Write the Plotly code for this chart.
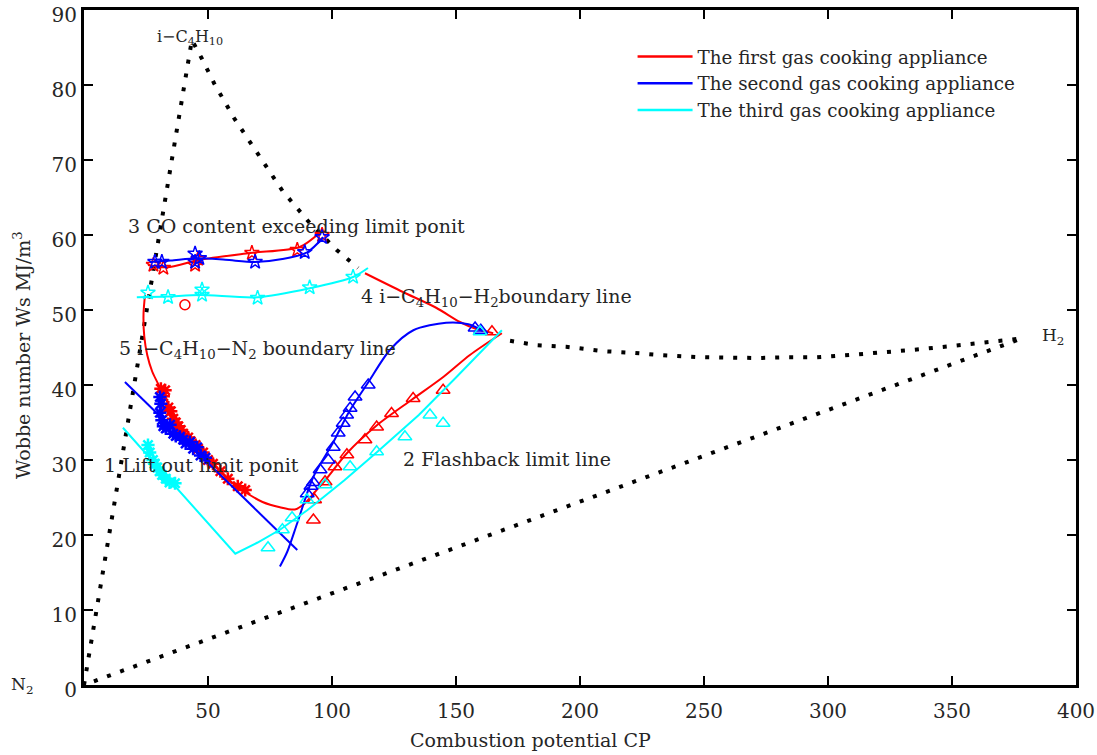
import plotly.graph_objects as go

# ---------------- boundary (dotted) lines ----------------
# N2 -> i-C4H10 -> along i-C4H10 side
tri_cp = [0, 43.5, 47.4, 52.5, 60.5, 70, 80, 91, 101.9, 110.5]
tri_ws = [0, 86, 83.6, 80.2, 75.6, 70.9, 65.9, 61.6, 58.0, 55.6]
# i-C4H10-H2 curve -> H2 -> straight back to N2
h2_cp = [171.8, 182.7, 194.4, 210, 221, 232, 249, 261, 272.6, 284, 295.6, 308.5, 321, 335, 350, 365, 378, 0]
h2_ws = [45.9, 45.3, 45.1, 44.5, 44.3, 44.0, 43.7, 43.6, 43.6, 43.7, 43.7, 44.0, 44.3, 44.7, 45.2, 45.7, 46.2, 0]

# ---------------- first appliance (red) ----------------
red_top_cp = [25.8, 33.5, 46.8, 67, 87, 95]
red_top_ws = [56.0, 55.7, 56.7, 57.6, 58.4, 60.3]
red_top_star_cp = [28, 32, 44.8, 46, 67.7, 86, 96]
red_top_star_ws = [56.0, 55.6, 56.0, 56.8, 57.6, 58.0, 60.0]
red_loop_cp = [24.6, 24.0, 24.3, 25.5, 27.5, 30.6, 35, 40, 46, 52, 58, 65.6, 72, 79, 85, 89, 93, 97.5, 106, 118, 132, 145, 155.6, 168.5]
red_loop_ws = [52.0, 49.5, 46.5, 44.0, 41.8, 39.7, 36.8, 34.0, 31.5, 29.6, 27.4, 25.6, 24.4, 23.7, 23.4, 24.2, 25.7, 27.4, 30.9, 34.6, 38.0, 41.1, 44.0, 46.9]
red_b4_cp = [113.3, 128.6, 142, 151.6, 158, 165]
red_b4_ws = [54.9, 52.4, 50.3, 48.4, 47.5, 46.9]
red_lift_cp = [31, 32, 32.7, 34, 35, 36, 37, 38, 39, 40, 42, 43, 45, 46, 48, 50, 52, 55, 58, 62, 65]
red_lift_ws = [39.5, 38.5, 39.3, 37.0, 36.5, 35.5, 35.0, 34.5, 34.0, 33.5, 33.0, 32.5, 32.0, 31.5, 31.0, 30.0, 29.5, 28.5, 27.5, 26.5, 26.0]
red_flash_cp = [92.5, 93, 97.2, 101.2, 106, 113.3, 118, 124, 132.7, 144.8, 164.5]
red_flash_ws = [22.0, 24.7, 27.1, 29.1, 30.7, 32.7, 34.4, 36.2, 38.2, 39.3, 47.1]
red_circle_cp = [40.7]
red_circle_ws = [50.7]

# ---------------- second appliance (blue) ----------------
blue_top_cp = [26.6, 35, 45.6, 57, 69, 80, 90, 96.5]
blue_top_ws = [56.4, 56.6, 56.9, 56.7, 56.4, 56.8, 57.7, 59.7]
blue_top_star_cp = [28.6, 31.4, 44.8, 44.8, 46.5, 69, 89, 96]
blue_top_star_ws = [56.4, 56.4, 57.5, 56.4, 56.9, 56.4, 57.7, 59.7]
blue_liftline_cp = [16.5, 86]
blue_liftline_ws = [40.4, 18.0]
blue_lift_cp = [30.6, 30.6, 31, 31.4, 32, 33, 34.7, 36, 37, 38.7, 40, 41, 42.7, 44, 45.6, 47, 49]
blue_lift_ws = [38.4, 36.3, 37.5, 35.3, 34.5, 34.2, 34.7, 33.5, 33.2, 33.1, 32.7, 32.2, 32.4, 31.5, 31.7, 30.6, 30.3]
blue_flashline_cp = [79, 82, 86, 92.4, 100.4, 107, 114.5, 123.4, 132.8, 146, 155, 161]
blue_flashline_ws = [15.8, 17.8, 21.6, 27.7, 32.3, 36.5, 40.3, 44.7, 47.3, 48.3, 48.1, 47.2]
blue_flash_cp = [90, 91.5, 92.5, 95.2, 98.5, 100.5, 102.5, 104.5, 105.9, 107.3, 109.3, 114.6, 157.7, 160]
blue_flash_ws = [25.5, 26.5, 27.0, 28.7, 30.0, 31.7, 33.6, 34.9, 36.0, 36.9, 38.4, 40.0, 47.6, 47.3]

# ---------------- third appliance (cyan) ----------------
cyan_top_cp = [21.3, 33.5, 46.8, 70, 91, 108.5, 114.5]
cyan_top_ws = [51.7, 51.8, 52.0, 51.7, 52.9, 54.4, 55.6]
cyan_top_star_cp = [25.8, 33.9, 47.6, 47.6, 70, 91, 108.5]
cyan_top_star_ws = [52.3, 51.7, 52.7, 52.0, 51.6, 53.0, 54.4]
cyan_line_cp = [15.7, 61, 70, 79, 90, 105, 119, 135, 150, 168.5]
cyan_line_ws = [34.3, 17.5, 19.0, 20.7, 23.3, 27.3, 31.3, 36.0, 41.0, 47.3]
cyan_lift_cp = [25.8, 26.5, 27.8, 28.5, 29.5, 30.5, 31.5, 33, 34.5, 36.7]
cyan_lift_ws = [32.0, 31.0, 30.0, 29.5, 29.0, 28.5, 28.0, 27.5, 27.0, 26.9]
cyan_flash_cp = [74.2, 80, 83.9, 89.9, 97.2, 107.3, 118, 129.4, 139.5, 144.8, 159.7]
cyan_flash_ws = [18.3, 20.7, 22.3, 24.7, 26.7, 29.1, 31.1, 33.1, 36.0, 34.9, 47.1]

legend_names = ["The first gas cooking appliance",
                "The second gas cooking appliance",
                "The third gas cooking appliance"]
RED, BLUE, CYAN = "#ff0000", "#0000ff", "#00ffff"
FONT = "DejaVu Serif"
TXT = "#262626"

x_ticks = [50, 100, 150, 200, 250, 300, 350, 400]
y_ticks = [0, 10, 20, 30, 40, 50, 60, 70, 80, 90]

fig = go.Figure()

def dotted(x, y):
    fig.add_trace(go.Scatter(x=x, y=y, mode="lines", showlegend=False,
                             line=dict(color="black", width=4, dash="4px,10px")))

def line(x, y, c, shape="spline"):
    fig.add_trace(go.Scatter(x=x, y=y, mode="lines", showlegend=False,
                             line=dict(color=c, width=2, shape=shape, smoothing=0.8)))

def marks(x, y, c, sym, size, lw=1.5):
    fig.add_trace(go.Scatter(x=x, y=y, mode="markers", showlegend=False,
                             marker=dict(symbol=sym, size=size, color=c,
                                         line=dict(color=c, width=lw))))

dotted(tri_cp, tri_ws)
dotted(h2_cp, h2_ws)

# red
line(red_top_cp, red_top_ws, RED)
line(red_loop_cp, red_loop_ws, RED)
line(red_b4_cp, red_b4_ws, RED)
marks(red_top_star_cp, red_top_star_ws, RED, "star-open", 11)
marks(red_lift_cp, red_lift_ws, RED, "asterisk-open", 11, 2.5)
marks(red_flash_cp, red_flash_ws, RED, "triangle-up-open", 12)
marks(red_circle_cp, red_circle_ws, RED, "circle-open", 10)

# blue
line(blue_top_cp, blue_top_ws, BLUE)
line(blue_liftline_cp, blue_liftline_ws, BLUE, "linear")
line(blue_flashline_cp, blue_flashline_ws, BLUE)
marks(blue_top_star_cp, blue_top_star_ws, BLUE, "star-open", 11)
marks(blue_lift_cp, blue_lift_ws, BLUE, "asterisk-open", 11, 2.5)
marks(blue_flash_cp, blue_flash_ws, BLUE, "triangle-up-open", 12)

# cyan
line(cyan_top_cp, cyan_top_ws, CYAN)
line(cyan_line_cp, cyan_line_ws, CYAN, "linear")
marks(cyan_top_star_cp, cyan_top_star_ws, CYAN, "star-open", 11)
marks(cyan_lift_cp, cyan_lift_ws, CYAN, "asterisk-open", 11, 2.5)
marks(cyan_flash_cp, cyan_flash_ws, CYAN, "triangle-up-open", 12)

# legend entries
for name, c in zip(legend_names, [RED, BLUE, CYAN]):
    fig.add_trace(go.Scatter(x=[None], y=[None], mode="lines", name=name,
                             line=dict(color=c, width=2.5)))

labels = [
    (28.6, 86.4, "i−C<sub>4</sub>H<sub>10</sub>", 16),
    (385.5, 46.5, "H<sub>2</sub>", 17),
    (17.0, 61.2, "3 CO content exceeding limit ponit", 19),
    (111.0, 51.7, "4 i−C<sub>4</sub>H<sub>10</sub>−H<sub>2</sub>boundary line", 19),
    (13.3, 44.8, "5 i−C<sub>4</sub>H<sub>10</sub>−N<sub>2</sub> boundary line", 19),
    (7.3, 29.3, "1 Lift out limit ponit", 19),
    (128.0, 30.1, "2 Flashback limit line", 19),
]
for x, y, t, s in labels:
    fig.add_annotation(x=x, y=y, text=t, showarrow=False, xanchor="left",
                       yanchor="middle", font=dict(family=FONT, size=s, color=TXT))

fig.add_annotation(xref="paper", yref="paper", x=-0.0625, y=0.0, text="N<sub>2</sub>",
                   showarrow=False, xanchor="center", yanchor="middle",
                   font=dict(family=FONT, size=17, color=TXT))
fig.add_annotation(xref="paper", yref="paper", x=0.45, y=-0.081,
                   text="Combustion potential CP", showarrow=False,
                   xanchor="center", yanchor="middle",
                   font=dict(family=FONT, size=19, color=TXT))
fig.add_annotation(xref="paper", yref="paper", x=-0.0625, y=0.489,
                   text="Wobbe number Ws MJ/m<sup>3</sup>", showarrow=False, textangle=-90,
                   xanchor="center", yanchor="middle",
                   font=dict(family=FONT, size=19, color=TXT))

axis_common = dict(showline=True, linewidth=3, linecolor="black", mirror="ticks",
                   ticks="inside", ticklen=9, tickwidth=2, tickcolor="black",
                   showgrid=False, zeroline=False, automargin=False,
                   ticklabeloverflow="allow",
                   tickfont=dict(family=FONT, size=20, color=TXT))
fig.update_xaxes(range=[0, 400], tickvals=x_ticks, ticklabelstandoff=6, **axis_common)
fig.update_yaxes(range=[0, 90], tickvals=y_ticks, ticklabelshift=5, **axis_common)

fig.update_layout(
    width=1097, height=755,
    margin=dict(l=84, r=21, t=10, b=70, autoexpand=False),
    plot_bgcolor="white", paper_bgcolor="white",
    legend=dict(x=0.553, y=0.9585, xanchor="left", yanchor="top",
                font=dict(family=FONT, size=18.3, color=TXT),
                bgcolor="rgba(0,0,0,0)", tracegroupgap=0, itemwidth=55),
)

fig.write_html("out.html", config={"displayModeBar": False},
               post_script="document.body.style.margin='0px';")
